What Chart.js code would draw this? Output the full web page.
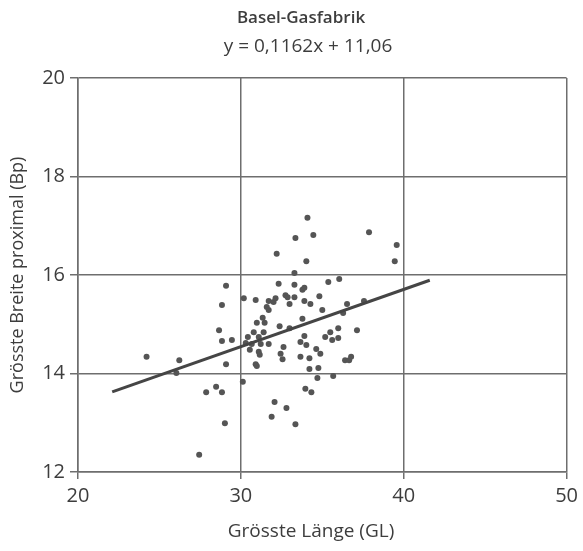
<!DOCTYPE html>
<html><head><meta charset="utf-8">
<script src="https://cdn.jsdelivr.net/npm/chart.js@4"></script>
<style>html,body{margin:0;padding:0;background:#fff}#wrap{width:583px;height:551px}</style>
</head><body><div id="wrap"><canvas id="c" width="583" height="551"></canvas></div>
<script>
const titleText = "Basel-Gasfabrik";
const equationText = "y = 0,1162x + 11,06";
const xAxisTitle = "Grösste Länge (GL)";
const yAxisTitle = "Grösste Breite proximal (Bp)";
const xTickValues = [20, 30, 40, 50];
const yTickValues = [12, 14, 16, 18, 20];
const lengthGL = [24.21,26.22,26.04,27.44,27.87,28.48,28.84,29.02,29.09,29.09,28.84,28.66,28.84,29.45,30.12,30.18,30.91,30.98,30.43,30.79,31.10,31.40,30.30,30.67,31.22,31.71,30.55,31.10,31.16,30.91,30.98,31.46,31.34,31.59,31.71,31.71,32.01,32.13,32.74,32.87,32.99,33.29,33.78,33.90,33.90,34.27,34.82,35.00,33.78,32.38,32.99,32.32,33.29,33.29,32.20,34.02,33.35,34.45,34.09,37.87,39.57,39.45,35.37,36.04,36.52,36.28,37.56,35.98,37.13,35.49,35.18,35.61,35.98,33.90,33.66,34.02,32.62,32.44,32.56,33.66,34.21,34.63,34.88,34.21,34.76,34.70,35.67,36.40,36.65,36.77,33.96,34.33,32.07,32.80,31.89,33.35];
const breadthBp = [14.34,14.27,14.01,12.35,13.62,13.73,13.62,12.99,14.19,15.78,15.39,14.88,14.66,14.68,13.83,15.53,15.49,15.03,14.74,14.84,14.74,14.84,14.62,14.60,14.60,14.60,14.48,14.44,14.38,14.19,14.15,15.03,15.13,15.35,15.29,15.47,15.45,15.53,15.59,15.55,15.41,15.55,15.70,15.74,15.47,15.41,15.57,15.29,15.11,14.96,14.92,15.82,15.80,16.04,16.43,16.28,16.75,16.81,17.16,16.87,16.61,16.28,15.86,15.92,15.41,15.23,15.47,14.92,14.88,14.84,14.74,14.68,14.72,14.76,14.64,14.58,14.54,14.40,14.29,14.34,14.31,14.50,14.40,14.09,14.11,13.91,13.95,14.27,14.27,14.34,13.69,13.62,13.42,13.30,13.12,12.97];
const slope = 0.1162;
const intercept = 11.06;
const fitRangeX = [22.1, 41.6];

const points = lengthGL.map((x, i) => ({x: x, y: breadthBp[i]}));
const fitLine = fitRangeX.map(x => ({x: x, y: slope * x + intercept}));

const textColor = '#3d3d3d';
const textPlugin = {
  id: 'texts',
  afterDraw(chart) {
    const ctx = chart.ctx, a = chart.chartArea;
    ctx.save();
    ctx.fillStyle = textColor;
    ctx.textAlign = 'center';
    ctx.textBaseline = 'middle';
    ctx.font = '600 17px "Open Sans"';
    ctx.fillText(titleText, a.left + 223, 18);
    ctx.font = '19px "Open Sans"';
    ctx.fillText(equationText, a.left + 230, 47);
    ctx.font = '19px "Open Sans"';
    ctx.fillText(xAxisTitle, a.left + 233, 532);
    ctx.restore();
  }
};

Chart.defaults.font.family = '"Open Sans", sans-serif';
Chart.defaults.color = textColor;

new Chart(document.getElementById('c'), {
  type: 'scatter',
  data: {
    datasets: [
      {type: 'line', data: fitLine, borderColor: '#454545', borderWidth: 3, pointRadius: 0, fill: false},
      {data: points, backgroundColor: '#555', borderWidth: 0, pointRadius: 3, pointHoverRadius: 3}
    ]
  },
  options: {
    responsive: false,
    animation: false,
    layout: {padding: {top: 78, right: 13, left: 0, bottom: 0}},
    plugins: {legend: {display: false}, tooltip: {enabled: false}},
    scales: {
      x: {
        type: 'linear', min: 20, max: 50,
        afterBuildTicks: s => { s.ticks = xTickValues.map(v => ({value: v})); },
        afterFit: s => { s.height = 79; },
        grid: {color: '#6e6e6e', lineWidth: 1.5, tickLength: 7, drawTicks: true},
        border: {color: '#6e6e6e', width: 1.5},
        ticks: {font: {size: 20}, padding: 5, color: textColor}
      },
      y: {
        type: 'linear', min: 12, max: 20,
        afterBuildTicks: s => { s.ticks = yTickValues.map(v => ({value: v})); },
        afterFit: s => { s.width = 78; },
        grid: {color: '#6e6e6e', lineWidth: 1.5, tickLength: 8, drawTicks: true},
        border: {color: '#6e6e6e', width: 1.5},
        ticks: {font: {size: 20}, padding: 5, color: textColor},
        title: {display: true, text: yAxisTitle, font: {size: 18}, padding: {top: 7, bottom: 7}, color: textColor}
      }
    }
  },
  plugins: [textPlugin]
});
</script></body></html>
